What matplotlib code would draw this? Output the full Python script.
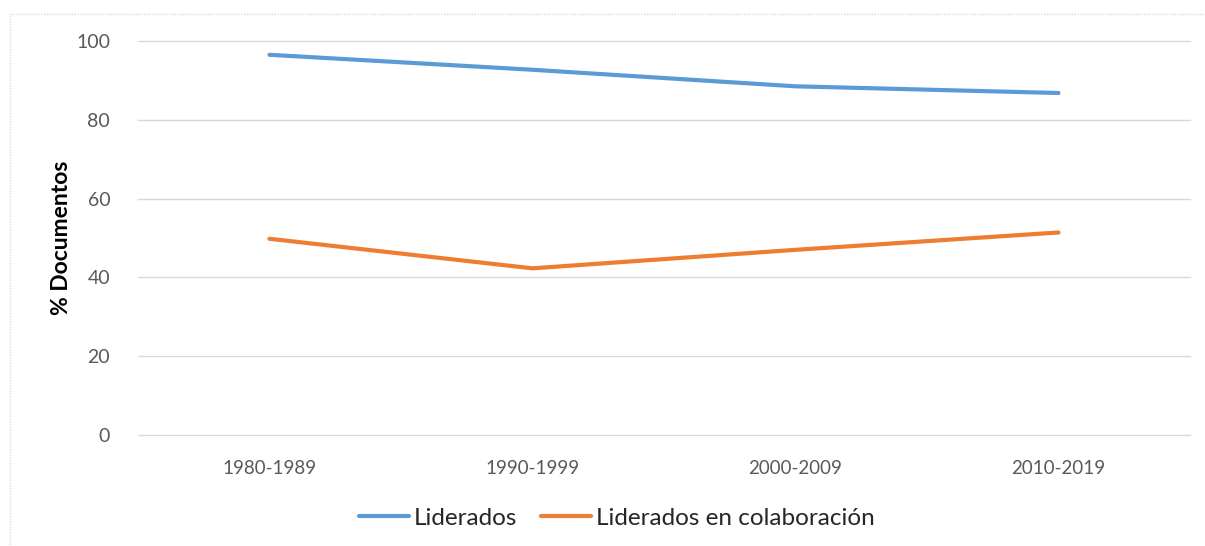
import matplotlib.pyplot as plt
from matplotlib.patches import Rectangle

periodos = ["1980-1989", "1990-1999", "2000-2009", "2010-2019"]
liderados = [96.5, 92.7, 88.5, 86.8]
liderados_colab = [49.8, 42.3, 47.0, 51.4]
y_ticks = [0, 20, 40, 60, 80, 100]

plt.rcParams['font.family'] = ['Lato', 'DejaVu Sans']

fig = plt.figure(figsize=(12.05, 5.46), dpi=100)
ax = fig.add_axes([138 / 1205, 111 / 546, (1190 - 138) / 1205, (435 - 41) / 546])

x = range(len(periodos))
ax.plot(x, liderados, color='#5B9BD5', lw=3, solid_capstyle='round', label='Liderados')
ax.plot(x, liderados_colab, color='#ED7D31', lw=3, solid_capstyle='round',
        label='Liderados en colaboración')

ax.set_xlim(-0.5, len(periodos) - 0.5)
ax.set_ylim(0, 100)
ax.set_yticks(y_ticks)
ax.set_xticks(list(x), labels=periodos)
ax.grid(axis='y', color='#D9D9D9', lw=1)
for gl in ax.get_ygridlines():
    gl.set_clip_on(False)
ax.set_axisbelow(True)
for s in ax.spines.values():
    s.set_visible(False)
ax.tick_params(length=0, labelsize=14, colors='#595959')
ax.tick_params(axis='x', labelsize=13.5, pad=18)
ax.tick_params(axis='y', pad=20)
ax.set_ylabel('% Documentos', fontsize=16.5, fontweight='bold', color='black', labelpad=3)

fig.legend(loc='center', bbox_to_anchor=(617 / 1205, 1 - 518 / 546), ncol=2, frameon=False,
           fontsize=17.5, handlelength=2.05, handletextpad=0.2, columnspacing=1.0,
           labelcolor='#262626')

fig.patches.append(Rectangle((10 / 1205, -0.05), 1.1, 1 - 14 / 546 + 0.05,
                             transform=fig.transFigure, fill=False,
                             edgecolor='#D9D9D9', lw=1, ls=(0, (1, 1))))

fig.savefig('out.png', dpi=100)
